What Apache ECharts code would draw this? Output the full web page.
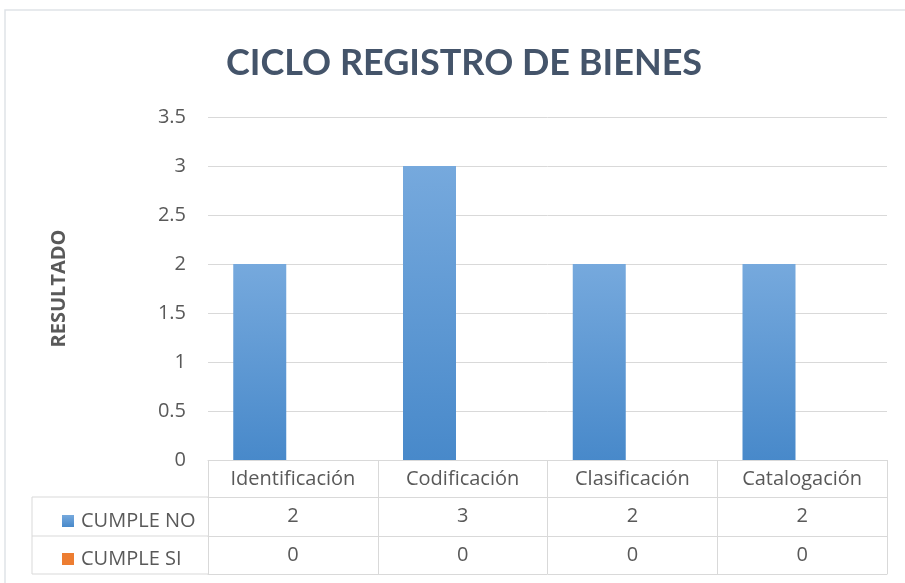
<!DOCTYPE html>
<html>
<head>
<meta charset="utf-8">
<script src="https://cdn.jsdelivr.net/npm/echarts@6/dist/echarts.min.js"></script>
<style>
  html, body { margin: 0; padding: 0; background: #fff; }
  #chart { width: 905px; height: 583px; }
</style>
</head>
<body>
<div id="chart"></div>
<script>
var categories = ['Identificación', 'Codificación', 'Clasificación', 'Catalogación'];
var seriesNames = ['CUMPLE NO', 'CUMPLE SI'];
var cumpleNo = [2, 3, 2, 2];
var cumpleSi = [0, 0, 0, 0];
var yTicks = { min: 0, max: 3.5, interval: 0.5 };

var myChart = echarts.init(document.getElementById('chart'));

var gray = '#595959';
var lineGray = '#d9d9d9';
var font = 'Open Sans';

// fila de la tabla de datos: eje extra desplazado bajo el eje principal
function tableRow(values, offset, showLabel) {
  return {
    type: 'category',
    position: 'bottom',
    offset: offset,
    data: values.map(String),
    axisLine: { show: true, lineStyle: { color: lineGray } },
    axisTick: { show: false },
    axisLabel: { show: showLabel, margin: 9, fontSize: 20, color: gray, fontFamily: font },
    splitLine: { show: false }
  };
}

var option = {
  animation: false,
  title: {
    text: 'CICLO REGISTRO DE BIENES',
    left: 221,
    top: 40,
    textStyle: { fontSize: 36, fontWeight: 'bold', color: '#44546A', fontFamily: 'Lato' }
  },
  legend: {
    orient: 'vertical',
    left: 57,
    top: 506,
    icon: 'rect',
    itemWidth: 12,
    itemHeight: 12,
    itemGap: 18,
    textStyle: { fontSize: 20, color: gray, fontFamily: font, padding: [0, 0, 0, 2] },
    data: seriesNames
  },
  grid: { left: 208, right: 18, top: 117, bottom: 123 },
  xAxis: [
    {
      type: 'category',
      data: categories,
      axisLine: { show: true, lineStyle: { color: lineGray } },
      axisTick: { show: true, length: 114, lineStyle: { color: lineGray } },
      axisLabel: { margin: 9, fontSize: 20, color: gray, fontFamily: font }
    },
    tableRow(cumpleNo, 37, true),
    tableRow(cumpleSi, 76, true),
    tableRow(cumpleSi, 114, false)
  ],
  yAxis: {
    type: 'value',
    min: yTicks.min,
    max: yTicks.max,
    interval: yTicks.interval,
    name: 'RESULTADO',
    nameLocation: 'middle',
    nameRotate: 90,
    nameGap: 139,
    nameTextStyle: { fontSize: 20, fontWeight: 'bold', color: gray, fontFamily: font },
    axisLine: { show: false },
    axisTick: { show: false },
    axisLabel: { margin: 22, fontSize: 20, color: gray, fontFamily: font },
    splitLine: { lineStyle: { color: lineGray } }
  },
  series: [
    {
      name: seriesNames[0],
      type: 'bar',
      data: cumpleNo,
      barWidth: 53,
      barGap: '25%',
      itemStyle: {
        color: new echarts.graphic.LinearGradient(0, 0, 0, 1, [
          { offset: 0, color: '#76A9DD' },
          { offset: 1, color: '#4889CA' }
        ])
      }
    },
    {
      name: seriesNames[1],
      type: 'bar',
      data: cumpleSi,
      barWidth: 53,
      itemStyle: { color: '#ED7D31' }
    }
  ],
  graphic: [
    { type: 'rect', shape: { x: 5, y: 10, width: 905, height: 580 }, style: { fill: 'none', stroke: '#dfe3e8', lineWidth: 1.5 }, silent: true },
    { type: 'line', shape: { x1: 32, y1: 497, x2: 208, y2: 497 }, style: { stroke: lineGray } },
    { type: 'line', shape: { x1: 32, y1: 536, x2: 208, y2: 536 }, style: { stroke: lineGray } },
    { type: 'line', shape: { x1: 32, y1: 574, x2: 208, y2: 574 }, style: { stroke: lineGray } },
    { type: 'line', shape: { x1: 32, y1: 497, x2: 32, y2: 574 }, style: { stroke: lineGray } }
  ]
};
myChart.setOption(option);
window.addEventListener('resize', function () {
  myChart.resize();
});
</script>
</body>
</html>
